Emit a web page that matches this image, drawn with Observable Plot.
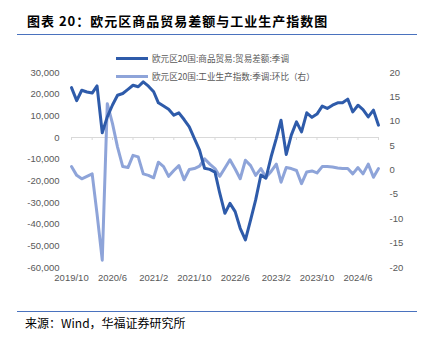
<!DOCTYPE html>
<html>
<head>
<meta charset="utf-8">
<script src="https://cdn.jsdelivr.net/npm/d3@7"></script>
<script src="https://cdn.jsdelivr.net/npm/@observablehq/plot@0.6"></script>
<style>
  html, body { margin: 0; padding: 0; background: #fff; }
  #wrap { position: relative; width: 428px; height: 340px; overflow: hidden;
    font-family: "Liberation Sans", "Noto Sans CJK SC", sans-serif; }
  #title { position: absolute; left: 27px; top: 11px; font-size: 13px; font-weight: bold;
    letter-spacing: 1px; color: #000; font-family: "Noto Sans CJK SC", sans-serif; white-space: nowrap; }
  .hr { position: absolute; left: 17px; width: 400px; height: 0; border-top: 1.5px solid #4A72BE; }
  #caption { position: absolute; left: 25px; top: 314px; font-size: 12px; color: #000;
    font-family: "Noto Sans CJK SC", sans-serif; white-space: nowrap; }
  .leg { position: absolute; left: 116px; font-size: 8.6px; color: #595959; white-space: nowrap;
    font-family: "Noto Sans CJK SC", sans-serif; display: flex; align-items: center; }
  .leg .sw { display: inline-block; width: 32px; height: 3px; margin-right: 4px; }
  #chart { position: absolute; left: 0; top: 0; }
</style>
</head>
<body>
<div id="wrap">
  <div id="chart"></div>
  <div id="title">图表 20：欧元区商品贸易差额与工业生产指数图</div>
  <div class="hr" style="top:34px"></div>
  <div id="leg1" class="leg" style="top:52px"><span class="sw" style="background:#2E5BAA"></span><span>欧元区20国:商品贸易:贸易差额:季调</span></div>
  <div id="leg2" class="leg" style="top:70px"><span class="sw" style="background:#8EA4D9"></span><span>欧元区20国:工业生产指数:季调:环比（右）</span></div>
  <div class="hr" style="top:311px"></div>
  <div id="caption">来源：Wind，华福证券研究所</div>
</div>
<script>
// Months: 2019/10 .. 2024/10
const months = d3.utcMonth.range(new Date(Date.UTC(2019, 9, 1)), new Date(Date.UTC(2024, 10, 1)));

// 欧元区20国:商品贸易:贸易差额:季调 (left axis)
const tradeBalance = [
  23000, 17000, 21800, 21000, 20500, 23800, 2200, 9500, 15000, 19500,
  20300, 22200, 24100, 23400, 25700, 23700, 21100, 16000, 14500, 13000,
  10300, 11400, 8300, 4900, -400, -5800, -14200, -14700, -16000, -25600,
  -35000, -30400, -34200, -41900, -47300, -38000, -28800, -17300, -18800, -8900,
  -400, 8000, -7800, 1100, 7200, 2600, 11400, 9300, 10800, 14500,
  13400, 14900, 16000, 16000, 17700, 11800, 14900, 12900, 9500, 12600,
  5700
];

// 欧元区20国:工业生产指数:季调:环比（右） (right axis, %)
const ipMoM = [
  0.7, -1.1, -1.8, -1.3, -0.8, -9.0, -18.5, 13.6, 9.5, 4.7,
  0.7, 0.5, 3.0, 2.7, -0.8, -1.1, -1.6, 1.6, 0.7, -1.3,
  -0.1, 0.9, -2.0, 0.1, 0.3, 0.8, 2.3, 1.2, 0.3, -1.3,
  0.4, 2.1, 0.2, -1.8, 2.0, 0.9, -1.1, 0.3, -1.5, -0.3,
  1.2, -2.5, 0.5, 0.3, -0.1, -2.8, -0.4, -0.2, -0.6, 0.7,
  0.7, 0.6, 0.4, 0.3, 0.3, -0.8, 0.5, -0.8, 1.2, -1.5,
  0.3
];

const leftTicks = [30000, 20000, 10000, 0, -10000, -20000, -30000, -40000, -50000, -60000];
const rightTicks = [20, 15, 10, 5, 0, -5, -10, -15, -20];
const xTickLabels = ["2019/10", "2020/6", "2021/2", "2021/10", "2022/6", "2023/2", "2023/10", "2024/6"];

const leftDomain = [-60000, 30000];
const rightDomain = [-20, 20];
const k = (leftDomain[1] - leftDomain[0]) / (rightDomain[1] - rightDomain[0]);
const toLeft = v => leftDomain[0] + (v - rightDomain[0]) * k;
const fromLeft = v => rightDomain[0] + (v - leftDomain[0]) / k;

const parseYM = s => { const [y, m] = s.split("/").map(Number); return new Date(Date.UTC(y, m - 1, 1)); };
const xTicks = xTickLabels.map(parseYM);
const minorTicks = months.filter((d, i) => i % 4 === 0);

const trade = months.map((d, i) => ({date: d, v: tradeBalance[i]}));
const ip = months.map((d, i) => ({date: d, v: toLeft(ipMoM[i])}));

const fmtNum = d => d3.format(",")(d).replace("−", "-");

const chart = Plot.plot({
  width: 428,
  height: 300,
  marginTop: 72,
  marginBottom: 33,
  marginLeft: 71,
  marginRight: 50,
  style: {fontFamily: '"Liberation Sans", "Noto Sans CJK SC", sans-serif', fontSize: "9.5px", color: "#595959", background: "transparent"},
  x: {type: "utc", domain: [months[0], months[months.length - 1]], axis: null},
  y: {domain: leftDomain, axis: null},
  marks: [
    Plot.ruleY([0], {stroke: "#D9D9D9", strokeWidth: 1}),
    Plot.ruleX(minorTicks, {x: d => d, y1: 0, y2: 0, insetBottom: -3, stroke: "#D9D9D9"}),
    Plot.axisY(leftTicks, {anchor: "left", tickSize: 0, tickPadding: 12, tickFormat: fmtNum, label: null}),
    Plot.axisY(rightTicks.map(toLeft), {anchor: "right", tickSize: 0, tickPadding: 11,
      tickFormat: d => fmtNum(Math.round(fromLeft(d))), label: null}),
    Plot.axisX(xTicks, {anchor: "bottom", tickSize: 0, tickPadding: 7,
      tickFormat: d => `${d.getUTCFullYear()}/${d.getUTCMonth() + 1}`, label: null}),
    Plot.line(ip, {x: "date", y: "v", stroke: "#8EA4D9", strokeWidth: 3, strokeLinejoin: "round"}),
    Plot.line(trade, {x: "date", y: "v", stroke: "#2E5BAA", strokeWidth: 3, strokeLinejoin: "round"})
  ]
});
document.getElementById("chart").appendChild(chart);
</script>
</body>
</html>
